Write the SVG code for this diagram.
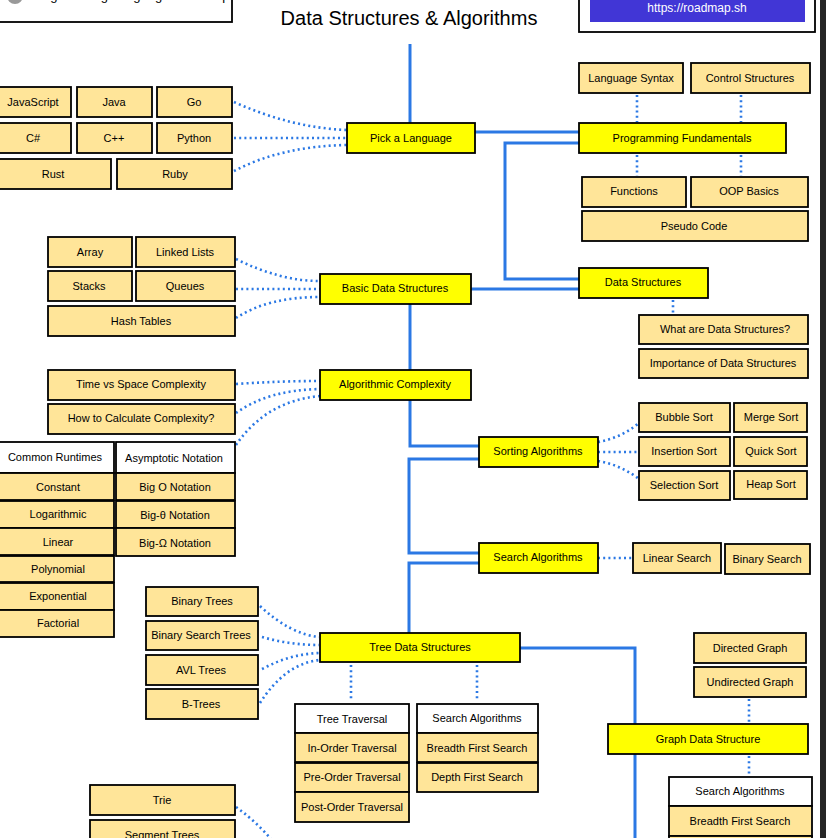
<svg xmlns="http://www.w3.org/2000/svg" width="826" height="838" viewBox="0 0 826 838">
<style>
.t{fill:#ffff00;stroke:#000;stroke-width:1.8}
.s{fill:#ffe599;stroke:#000;stroke-width:1.8}
.w{fill:#fff;stroke:#000;stroke-width:1.8}
text{font-family:"Liberation Sans",Arial,sans-serif;font-size:11px;fill:#000;text-anchor:middle;dominant-baseline:central}
.solid{fill:none;stroke:#2b78e4;stroke-width:3}
.dot{fill:none;stroke:#2b78e4;stroke-width:2.6;stroke-dasharray:2 3.2}
</style>
<rect x="0" y="0" width="826" height="838" fill="#fff"/>
<g id="header">
<rect class="w" x="-4" y="-12" width="236" height="34"/>
<circle cx="15" cy="-4" r="8" fill="#999"/>
<text x="30" y="-5" style="font-size:13px;text-anchor:start">Programming Language Roadmaps</text>
<text x="409" y="18" style="font-size:20px">Data Structures &amp; Algorithms</text>
<rect class="w" x="579" y="-12" width="236" height="44"/>
<rect x="590" y="-5" width="215" height="27" fill="#4136d6"/>
<text x="697" y="8" style="font-size:12px;fill:#fff">https://roadmap.sh</text>
</g>
<g id="connectors">
<path class="solid" d="M410,44 V123"/>
<path class="solid" d="M475,132 H579"/>
<path class="solid" d="M579,143 H505 V279 H579"/>
<path class="solid" d="M471,289 H579"/>
<path class="solid" d="M410,304 V370"/>
<path class="solid" d="M410,400 V446 H479"/>
<path class="solid" d="M479,459 H409 V553 H479"/>
<path class="solid" d="M479,563 H409 V633"/>
<path class="solid" d="M520,648 H635 V845"/>
<path class="dot" d="M234,102 Q292,128 347,130"/>
<path class="dot" d="M234,138 H347"/>
<path class="dot" d="M234,171 Q282,146 347,145"/>
<path class="dot" d="M637,95 V122"/>
<path class="dot" d="M741,95 V122"/>
<path class="dot" d="M637,155 V176"/>
<path class="dot" d="M741,155 V176"/>
<path class="dot" d="M236,259 Q280,281 320,281"/>
<path class="dot" d="M236,289 H320"/>
<path class="dot" d="M236,318 Q268,297 320,297"/>
<path class="dot" d="M236,384 Q280,381 320,381"/>
<path class="dot" d="M236,413 Q268,390 320,389"/>
<path class="dot" d="M236,445 Q266,401 320,396"/>
<path class="dot" d="M673,300 V314"/>
<path class="dot" d="M598,442 Q621,438 639,423"/>
<path class="dot" d="M598,452 H639"/>
<path class="dot" d="M598,461 Q621,465 639,479"/>
<path class="dot" d="M598,558 H633"/>
<path class="dot" d="M260,606 Q290,634 319,637"/>
<path class="dot" d="M262,637 Q290,645 319,645"/>
<path class="dot" d="M262,669 Q290,654 319,653"/>
<path class="dot" d="M260,703 Q285,664 319,660"/>
<path class="dot" d="M351,665 V701"/>
<path class="dot" d="M477,665 V701"/>
<path class="dot" d="M749,699 V723"/>
<path class="dot" d="M749,756 V775"/>
<path class="dot" d="M236,807 Q262,826 278,848"/>
</g>
<g id="n-javascript"><rect class="s" x="-4" y="87" width="75" height="30"/><text x="33" y="102">JavaScript</text></g>
<g id="n-java"><rect class="s" x="77" y="87" width="75" height="30"/><text x="114" y="102">Java</text></g>
<g id="n-go"><rect class="s" x="157" y="87" width="75" height="30"/><text x="194" y="102">Go</text></g>
<g id="n-csharp"><rect class="s" x="-4" y="123" width="75" height="30"/><text x="33" y="138">C#</text></g>
<g id="n-cpp"><rect class="s" x="77" y="123" width="75" height="30"/><text x="114" y="138">C++</text></g>
<g id="n-python"><rect class="s" x="157" y="123" width="75" height="30"/><text x="194" y="138">Python</text></g>
<g id="n-rust"><rect class="s" x="-4" y="159" width="115" height="30"/><text x="53" y="174">Rust</text></g>
<g id="n-ruby"><rect class="s" x="117" y="159" width="115" height="30"/><text x="175" y="174">Ruby</text></g>
<g id="n-pick"><rect class="t" x="347" y="123" width="128" height="30"/><text x="411" y="138">Pick a Language</text></g>
<g id="n-langsyntax"><rect class="s" x="579" y="63" width="104" height="30"/><text x="631" y="78">Language Syntax</text></g>
<g id="n-control"><rect class="s" x="691" y="63" width="119" height="30"/><text x="750" y="78">Control Structures</text></g>
<g id="n-progfund"><rect class="t" x="579" y="123" width="207" height="30"/><text x="682" y="138">Programming Fundamentals</text></g>
<g id="n-functions"><rect class="s" x="582" y="177" width="104" height="30"/><text x="634" y="191">Functions</text></g>
<g id="n-oop"><rect class="s" x="691" y="177" width="117" height="30"/><text x="749" y="191">OOP Basics</text></g>
<g id="n-pseudo"><rect class="s" x="582" y="211" width="226" height="30"/><text x="694" y="226">Pseudo Code</text></g>
<g id="n-datastructures"><rect class="t" x="579" y="268" width="129" height="30"/><text x="643" y="282">Data Structures</text></g>
<g id="n-whatare"><rect class="s" x="639" y="315" width="169" height="29"/><text x="725" y="329">What are Data Structures?</text></g>
<g id="n-importance"><rect class="s" x="639" y="349" width="169" height="29"/><text x="723" y="363">Importance of Data Structures</text></g>
<g id="n-basicds"><rect class="t" x="320" y="274" width="151" height="30"/><text x="395" y="288">Basic Data Structures</text></g>
<g id="n-array"><rect class="s" x="48" y="237" width="84" height="30"/><text x="90" y="252">Array</text></g>
<g id="n-linked"><rect class="s" x="136" y="237" width="99" height="30"/><text x="185" y="252">Linked Lists</text></g>
<g id="n-stacks"><rect class="s" x="48" y="271" width="84" height="30"/><text x="89" y="286">Stacks</text></g>
<g id="n-queues"><rect class="s" x="136" y="271" width="99" height="30"/><text x="185" y="286">Queues</text></g>
<g id="n-hash"><rect class="s" x="48" y="306" width="187" height="30"/><text x="141" y="321">Hash Tables</text></g>
<g id="n-algcomplex"><rect class="t" x="320" y="370" width="151" height="30"/><text x="395" y="384">Algorithmic Complexity</text></g>
<g id="n-timespace"><rect class="s" x="48" y="370" width="187" height="30"/><text x="141" y="384">Time vs Space Complexity</text></g>
<g id="n-howcalc"><rect class="s" x="48" y="404" width="187" height="30"/><text x="141" y="418">How to Calculate Complexity?</text></g>
<g id="n-commonrt"><rect class="w" x="-4" y="442" width="118" height="31"/><text x="55" y="457">Common Runtimes</text></g>
<g id="n-constant"><rect class="s" x="-4" y="473" width="118" height="27"/><text x="58" y="487">Constant</text></g>
<g id="n-log"><rect class="s" x="-4" y="501" width="118" height="27"/><text x="58" y="514">Logarithmic</text></g>
<g id="n-linear"><rect class="s" x="-4" y="528" width="118" height="27"/><text x="58" y="542">Linear</text></g>
<g id="n-poly"><rect class="s" x="-4" y="556" width="118" height="26"/><text x="58" y="569">Polynomial</text></g>
<g id="n-expo"><rect class="s" x="-4" y="583" width="118" height="27"/><text x="58" y="596">Exponential</text></g>
<g id="n-fact"><rect class="s" x="-4" y="610" width="118" height="27"/><text x="58" y="623">Factorial</text></g>
<g id="n-asym"><rect class="w" x="116" y="442" width="119" height="31"/><text x="174" y="458">Asymptotic Notation</text></g>
<g id="n-bigo"><rect class="s" x="116" y="473" width="119" height="27"/><text x="175" y="487">Big O Notation</text></g>
<g id="n-bigtheta"><rect class="s" x="116" y="501" width="119" height="27"/><text x="175" y="515">Big-θ Notation</text></g>
<g id="n-bigomega"><rect class="s" x="116" y="528" width="119" height="28"/><text x="175" y="543">Big-Ω Notation</text></g>
<g id="n-sorting"><rect class="t" x="479" y="437" width="119" height="30"/><text x="538" y="451">Sorting Algorithms</text></g>
<g id="n-bubble"><rect class="s" x="639" y="403" width="91" height="29"/><text x="684" y="417">Bubble Sort</text></g>
<g id="n-merge"><rect class="s" x="734" y="403" width="73" height="29"/><text x="771" y="417">Merge Sort</text></g>
<g id="n-insertion"><rect class="s" x="639" y="437" width="91" height="29"/><text x="684" y="451">Insertion Sort</text></g>
<g id="n-quick"><rect class="s" x="734" y="437" width="73" height="29"/><text x="771" y="451">Quick Sort</text></g>
<g id="n-selection"><rect class="s" x="639" y="471" width="91" height="29"/><text x="684" y="485">Selection Sort</text></g>
<g id="n-heap"><rect class="s" x="734" y="471" width="73" height="28"/><text x="771" y="484">Heap Sort</text></g>
<g id="n-search"><rect class="t" x="479" y="543" width="119" height="30"/><text x="538" y="557">Search Algorithms</text></g>
<g id="n-linsearch"><rect class="s" x="633" y="543" width="88" height="30"/><text x="677" y="558">Linear Search</text></g>
<g id="n-binsearch"><rect class="s" x="725" y="544" width="85" height="30"/><text x="767" y="559">Binary Search</text></g>
<g id="n-tree"><rect class="t" x="320" y="633" width="200" height="29"/><text x="420" y="647">Tree Data Structures</text></g>
<g id="n-bintrees"><rect class="s" x="146" y="587" width="112" height="29"/><text x="202" y="601">Binary Trees</text></g>
<g id="n-bst"><rect class="s" x="146" y="621" width="112" height="29"/><text x="201" y="635">Binary Search Trees</text></g>
<g id="n-avl"><rect class="s" x="146" y="655" width="112" height="30"/><text x="201" y="670">AVL Trees</text></g>
<g id="n-btrees"><rect class="s" x="146" y="689" width="112" height="30"/><text x="201" y="704">B-Trees</text></g>
<g id="n-treetrav"><rect class="w" x="295" y="704" width="114" height="29"/><text x="352" y="719">Tree Traversal</text></g>
<g id="n-inorder"><rect class="s" x="295" y="733" width="114" height="29"/><text x="352" y="748">In-Order Traversal</text></g>
<g id="n-preorder"><rect class="s" x="295" y="763" width="114" height="29"/><text x="352" y="777">Pre-Order Traversal</text></g>
<g id="n-postorder"><rect class="s" x="295" y="792" width="114" height="30"/><text x="352" y="807">Post-Order Traversal</text></g>
<g id="n-treesearch"><rect class="w" x="417" y="704" width="121" height="29"/><text x="477" y="718">Search Algorithms</text></g>
<g id="n-treebfs"><rect class="s" x="417" y="733" width="121" height="29"/><text x="477" y="748">Breadth First Search</text></g>
<g id="n-treedfs"><rect class="s" x="417" y="763" width="121" height="29"/><text x="477" y="777">Depth First Search</text></g>
<g id="n-trie"><rect class="s" x="90" y="785" width="145" height="30"/><text x="162" y="800">Trie</text></g>
<g id="n-segment"><rect class="s" x="90" y="820" width="145" height="30"/><text x="162" y="835">Segment Trees</text></g>
<g id="n-graph"><rect class="t" x="608" y="724" width="200" height="30"/><text x="708" y="739">Graph Data Structure</text></g>
<g id="n-directed"><rect class="s" x="694" y="633" width="112" height="30"/><text x="750" y="648">Directed Graph</text></g>
<g id="n-undirected"><rect class="s" x="694" y="667" width="112" height="30"/><text x="750" y="682">Undirected Graph</text></g>
<g id="n-graphsearch"><rect class="w" x="669" y="777" width="143" height="29"/><text x="740" y="791">Search Algorithms</text></g>
<g id="n-graphbfs"><rect class="s" x="669" y="806" width="143" height="30"/><text x="740" y="821">Breadth First Search</text></g>
<g id="n-graphnext"><rect class="s" x="669" y="836" width="143" height="30"/></g>
<rect id="edge-strip" x="820" y="0" width="6" height="838" fill="#262626"/>
</svg>
